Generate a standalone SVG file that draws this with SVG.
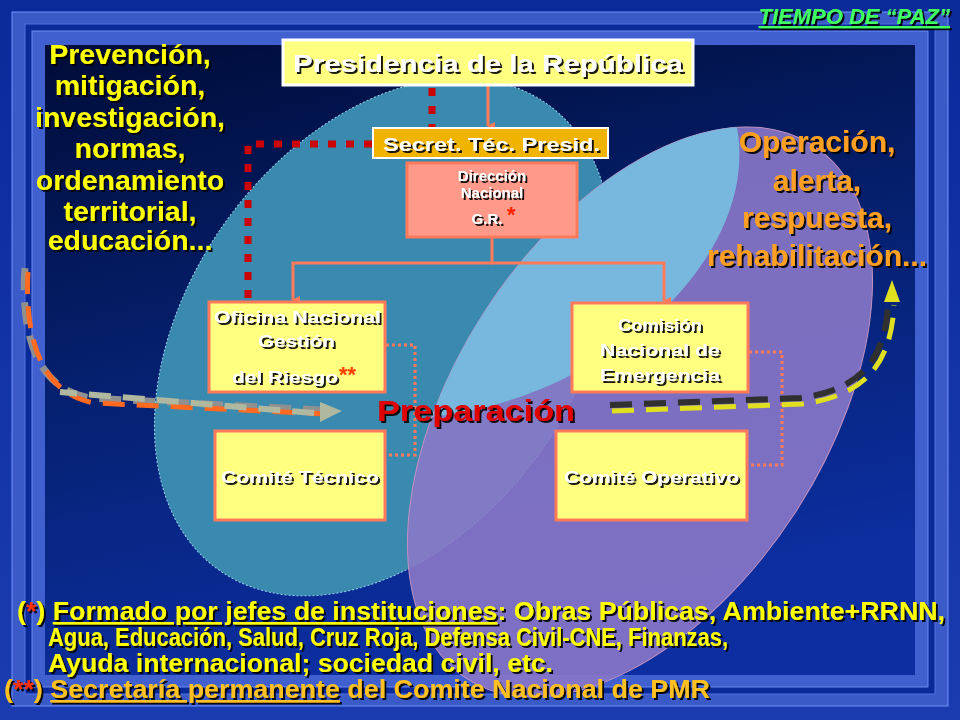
<svg xmlns="http://www.w3.org/2000/svg" width="960" height="720" viewBox="0 0 960 720">
<defs>
<linearGradient id="bg" x1="0" y1="0" x2="0" y2="1"><stop offset="0" stop-color="#0a2a9a"/><stop offset="1" stop-color="#1a3cb0"/></linearGradient>
<linearGradient id="inner" x1="0" y1="0" x2="0.3" y2="1"><stop offset="0" stop-color="#000c38"/><stop offset="0.5" stop-color="#05206e"/><stop offset="1" stop-color="#0c2ea0"/></linearGradient>
<filter id="sh" x="-5%" y="-5%" width="110%" height="120%"><feDropShadow dx="2" dy="2" stdDeviation="0.6" flood-color="#000" flood-opacity="0.9"/></filter>
<marker id="ar" markerWidth="8" markerHeight="8" refX="4" refY="7" orient="auto-start-reverse" markerUnits="userSpaceOnUse" viewBox="0 0 8 8"><path d="M0,0 L4,8 L8,0 Z" fill="#ff7a5a"/></marker>
<style>
.big{font-family:"Liberation Sans",Arial,sans-serif;font-weight:bold;fill:#ffff00;filter:url(#sh)}
.w{font-family:"Liberation Sans",Arial,sans-serif;font-weight:bold;fill:#fff;filter:url(#sh)}
.box{fill:#ffff80;stroke:#ff7a5a;stroke-width:3}
.ol{stroke:#ff7a5a;stroke-width:3;fill:none}
.rd{stroke:#cc0000;stroke-width:7;fill:none;stroke-dasharray:8 10}
.od{stroke:#ff7a5a;stroke-width:3;fill:none;stroke-dasharray:3 3}
.fn{font-family:"Liberation Sans",Arial,sans-serif;font-weight:bold;font-size:25px;fill:#ffff00;filter:url(#sh)}
</style>
</defs>
<rect width="960" height="720" fill="url(#bg)"/>
<rect x="12" y="12" width="936" height="694" fill="#3a5ac8" stroke="#7090ff" stroke-width="1"/>
<rect x="25" y="24" width="910" height="670" fill="#0a2a9a" stroke="#5070e0" stroke-width="1"/>
<rect x="32" y="31" width="896" height="656" fill="#4060d0" stroke="#6a8af0"/>
<rect x="45" y="45" width="870" height="630" fill="url(#inner)"/>
<ellipse cx="383" cy="337" rx="195" ry="285" transform="rotate(35 383 337)" fill="#3a8ab0" stroke="#9ad0e8" stroke-width="1" stroke-dasharray="2 2"/>
<ellipse cx="640" cy="412" rx="185" ry="318" transform="rotate(33 640 412)" fill="#8a78c8" fill-opacity="0.9" stroke="#c090c0" stroke-width="1"/>
<clipPath id="cp"><ellipse cx="383" cy="337" rx="195" ry="285" transform="rotate(35 383 337)"/></clipPath>
<ellipse cx="640" cy="412" rx="185" ry="318" transform="rotate(33 640 412)" fill="#78b8de" clip-path="url(#cp)"/>
<g id="connectors">
<line class="ol" x1="488" y1="86" x2="488" y2="126" marker-end="url(#ar)"/>
<polyline class="ol" points="492,238 492,263 293,263 293,300" marker-end="url(#ar)"/>
<polyline class="ol" points="492,263 664,263 664,301" marker-end="url(#ar)"/>
<line class="rd" x1="432" y1="88" x2="432" y2="128"/>
<polyline class="rd" points="372,144 248,144 248,300"/>
<polyline class="od" points="386,345 415,345 415,455 386,455"/>
<polyline class="od" points="749,352 782,352 782,465 748,465"/>
<path d="M25,268 C20,340 40,390 90,398 L320,410" fill="none" stroke="#909090" stroke-width="7" stroke-dasharray="22 12"/>
<path d="M28,272 C24,345 45,395 95,403 L325,414" fill="none" stroke="#ff6a20" stroke-width="5" stroke-dasharray="22 12"/>
<path d="M60,392 L325,414" fill="none" stroke="#b0b8a0" stroke-width="6" stroke-dasharray="22 12" stroke-dashoffset="5"/>
<path d="M320,402 L342,411 L320,422 Z" fill="#b0b8a0"/>
<path d="M610,405 L800,398 C860,390 885,360 888,305" fill="none" stroke="#303030" stroke-width="6" stroke-dasharray="22 12"/>
<path d="M612,411 L802,404 C864,396 891,365 894,305" fill="none" stroke="#e0e020" stroke-width="5" stroke-dasharray="22 12"/>
<path d="M884,302 L892,280 L900,302 Z" fill="#e0e020"/>
</g>
<g id="presidencia"><rect x="283" y="40" width="410" height="45" fill="#ffff80" stroke="#fff" stroke-width="3"/><text class="w" x="293" y="72" font-size="24" textLength="390" lengthAdjust="spacingAndGlyphs">Presidencia de la República</text></g>
<g id="secret"><rect x="373" y="128" width="235" height="30" fill="#f0b400" stroke="#fff" stroke-width="2"/><text class="w" x="383" y="151" font-size="18" textLength="217" lengthAdjust="spacingAndGlyphs">Secret.  Téc. Presid.</text></g>
<g id="direccion"><rect x="407" y="163" width="170" height="74" fill="#ff9a8a" stroke="#ff7a5a" stroke-width="3"/><text class="w" font-size="15" text-anchor="middle"><tspan x="492" y="181">Dirección</tspan><tspan x="492" y="198">Nacional</tspan><tspan x="487" y="224">G.R.</tspan></text><text x="507" y="222" font-family="Liberation Sans,sans-serif" font-weight="bold" font-size="22" fill="#ff2000">*</text></g>
<g id="oficina"><rect class="box" x="209" y="302" width="176" height="90"/><text class="w" font-size="16.5"><tspan x="214" y="323" textLength="167" lengthAdjust="spacingAndGlyphs">Oficina Nacional</tspan><tspan x="258" y="347" textLength="77" lengthAdjust="spacingAndGlyphs">Gestión</tspan><tspan x="232" y="383" textLength="106" lengthAdjust="spacingAndGlyphs">del Riesgo</tspan></text><text x="339" y="382" font-family="Liberation Sans,sans-serif" font-weight="bold" font-size="22" fill="#ff4000">**</text></g>
<g id="comision"><rect class="box" x="572" y="303" width="176" height="89"/><text class="w" font-size="16.5" text-anchor="middle"><tspan x="660" y="331" textLength="84" lengthAdjust="spacingAndGlyphs">Comisión</tspan><tspan x="660" y="356" textLength="120" lengthAdjust="spacingAndGlyphs">Nacional de</tspan><tspan x="660" y="381" textLength="120" lengthAdjust="spacingAndGlyphs">Emergencia</tspan></text></g>
<g id="tecnico"><rect class="box" x="215" y="431" width="170" height="89"/><text class="w" x="221" y="483" font-size="17" textLength="158" lengthAdjust="spacingAndGlyphs">Comité Técnico</text></g>
<g id="operativo"><rect class="box" x="556" y="431" width="191" height="89"/><text class="w" x="564" y="483" font-size="17" textLength="175" lengthAdjust="spacingAndGlyphs">Comité Operativo</text></g>
<text class="big" font-size="28.5" text-anchor="middle"><tspan x="130" y="64">Prevención,</tspan><tspan x="130" y="95">mitigación,</tspan><tspan x="130" y="127">investigación,</tspan><tspan x="130" y="158">normas,</tspan><tspan x="130" y="190">ordenamiento</tspan><tspan x="130" y="221">territorial,</tspan><tspan x="130" y="250">educación...</tspan></text>
<text class="big" font-size="30" text-anchor="middle" style="fill:#ffa020"><tspan x="817" y="152">Operación,</tspan><tspan x="817" y="191">alerta,</tspan><tspan x="817" y="228">respuesta,</tspan><tspan x="817" y="266">rehabilitación...</tspan></text>
<text x="476" y="421" font-family="Liberation Sans,sans-serif" font-weight="bold" font-size="30" textLength="198" lengthAdjust="spacingAndGlyphs" fill="#e00000" text-anchor="middle" filter="url(#sh)">Preparación</text>
<text x="950" y="24" font-family="Liberation Sans,sans-serif" font-weight="bold" font-style="italic" font-size="22" fill="#40ff60" text-anchor="end" text-decoration="underline" filter="url(#sh)">TIEMPO DE “PAZ”</text>
<text class="fn" x="17" y="620" textLength="928" lengthAdjust="spacingAndGlyphs">(<tspan fill="#ff3000">*</tspan>) <tspan text-decoration="underline">Formado por jefes de instituciones</tspan>: Obras Públicas, Ambiente+RRNN,</text>
<text class="fn" x="48" y="646" textLength="680" lengthAdjust="spacingAndGlyphs">Agua, Educación, Salud, Cruz Roja, Defensa Civil-CNE, Finanzas,</text>
<text class="fn" x="48" y="672" textLength="505" lengthAdjust="spacingAndGlyphs">Ayuda internacional; sociedad civil, etc.</text>
<text class="fn" x="4" y="698" textLength="706" lengthAdjust="spacingAndGlyphs" style="fill:#ffc020">(<tspan fill="#ff3000">**</tspan>) <tspan text-decoration="underline">Secretaría permanente</tspan> del Comite Nacional de PMR</text>
</svg>
